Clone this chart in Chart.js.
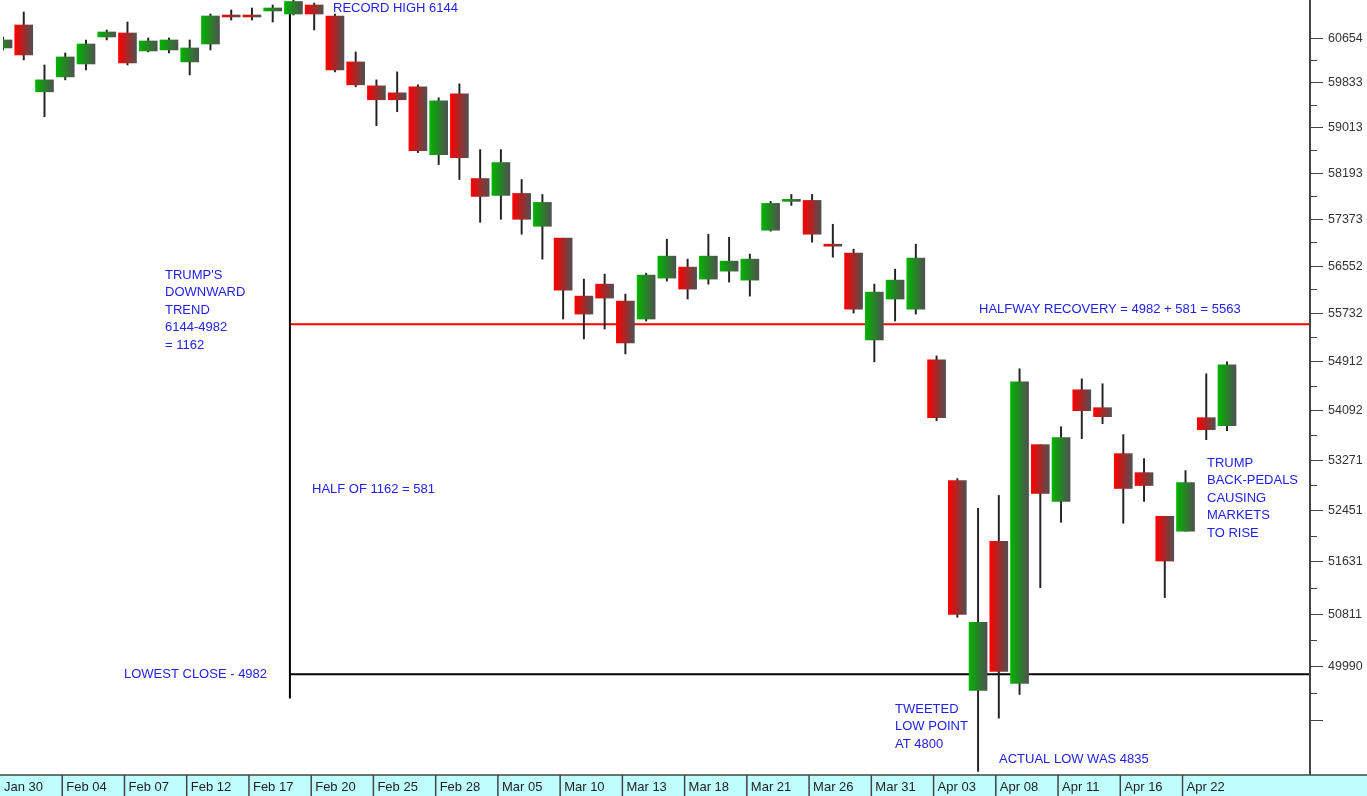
<!DOCTYPE html>
<html><head><meta charset="utf-8">
<script src="https://cdn.jsdelivr.net/npm/chart.js@4"></script>
<style>html,body{margin:0;padding:0;background:#fff}#c{display:block}</style>
</head><body>
<div style="width:1367px;height:796px"><canvas id="c"></canvas></div>
<script>
const dates=["Jan 30","Jan 31","Feb 03","Feb 04","Feb 05","Feb 06","Feb 07","Feb 10","Feb 11","Feb 12","Feb 13","Feb 14","Feb 17","Feb 18","Feb 19","Feb 20","Feb 21","Feb 24","Feb 25","Feb 26","Feb 27","Feb 28","Mar 03","Mar 04","Mar 05","Mar 06","Mar 07","Mar 10","Mar 11","Mar 12","Mar 13","Mar 14","Mar 17","Mar 18","Mar 19","Mar 20","Mar 21","Mar 24","Mar 25","Mar 26","Mar 27","Mar 28","Mar 31","Apr 01","Apr 02","Apr 03","Apr 04","Apr 07","Apr 08","Apr 09","Apr 10","Apr 11","Apr 14","Apr 15","Apr 16","Apr 17","Apr 18","Apr 22","Apr 23","Apr 24"];
const opens=[60469,60898,59658,59933,60172,60674,60748,60413,60432,60210,60543,61067,61067,61161,61104,61274,61067,60210,59768,59640,59750,58517,59622,58088,57787,57822,57241,57031,56024,56231,55938,55630,56335,56526,56318,56456,56300,57171,57681,57698,56926,56769,55273,55973,55801,54935,52933,49624,51954,49730,53521,52595,54432,54133,53373,53062,52354,52114,53967,53835];
const highs=[60674,61142,60154,60376,60618,60804,60954,60655,60655,60618,61104,61180,61217,61274,61368,61311,61104,60395,59878,60025,59787,59549,59805,58607,58607,58070,57804,57031,56318,56404,56059,56421,57013,56665,57101,57048,56752,57681,57804,57804,57276,56839,56231,56491,56926,55002,52965,52482,52691,54784,53521,53818,54616,54533,53686,53291,52354,53095,54700,54901];
const lows=[60432,60247,59203,59878,60062,60618,60154,60395,60376,59970,60432,60991,60991,60954,61085,60804,60025,59750,59040,59294,58553,58338,58070,57311,57364,57101,56665,55630,55290,55459,55036,55596,56283,55973,56231,56266,56024,57154,57610,56961,56700,55732,54901,55596,55715,53917,50752,48400,49202,49563,51216,52258,53620,53868,52242,52595,51061,52114,53603,53752];
const closes=[60618,60339,59878,60302,60543,60767,60191,60599,60618,60469,61067,61048,61048,61217,61340,61104,60062,59787,59513,59513,58589,59495,58464,57769,58374,57364,57663,56128,55715,55990,55222,56387,56717,56145,56717,56630,56665,57645,57716,57101,56891,55801,56093,56300,56682,53967,50798,50675,49913,54566,52723,53636,54083,53984,52804,52852,51638,52900,53768,54851];
const xLabelEvery=3;
const yTicks=[60654,59833,59013,58193,57373,56552,55732,54912,54092,53271,52451,51631,50811,49990,49170];
const yTickLabels=["60654","59833","59013","58193","57373","56552","55732","54912","54092","53271","52451","51631","50811","49990",""];
const recordHighIdx=13.83, halfway=55540, lowestClose=49870;
const yMin=48363,yMax=61368;

const labels=dates.concat(["","","",""]);
function grad(ctx,color){
  const ch=ctx.chart; const sx=ch.scales&&ch.scales.x; if(!sx) return color;
  const x=sx.getPixelForValue(ctx.dataIndex);
  if(!isFinite(x)) return color;
  const g=ch.ctx.createLinearGradient(x-9,0,x+9,0);
  g.addColorStop(0,color); g.addColorStop(1,'#505050'); return g;
}
const bodies=opens.map((o,i)=>[o,closes[i]]);
const wicks=lows.map((l,i)=>[l,highs[i]]);
const blue='#2222ee';
const overlay={id:'overlay',
 beforeDatasetsDraw(ch){
  const c=ch.ctx,x=ch.scales.x,y=ch.scales.y,a=ch.chartArea;
  c.save();
  const x0=x.getPixelForValue(recordHighIdx);
  c.lineWidth=2;
  c.strokeStyle='#ff0000';c.beginPath();c.moveTo(x0,y.getPixelForValue(halfway));c.lineTo(a.right,y.getPixelForValue(halfway));c.stroke();
  c.strokeStyle='#000';c.beginPath();c.moveTo(x0,y.getPixelForValue(lowestClose));c.lineTo(a.right,y.getPixelForValue(lowestClose));c.stroke();
  c.beginPath();c.moveTo(x0,y.getPixelForValue(61104));c.lineTo(x0,y.getPixelForValue(49500));c.stroke();
  c.restore();
 },
 afterDraw(ch){
  const c=ch.ctx,x=ch.scales.x,y=ch.scales.y,a=ch.chartArea;
  c.save();
  c.fillStyle='#c0ffff';c.fillRect(0,a.bottom+1,1367,23);
  c.strokeStyle='#444';c.lineWidth=1.5;c.beginPath();c.moveTo(0,a.bottom+1);c.lineTo(1367,a.bottom+1);c.stroke();
  c.font='13px Arial';c.fillStyle='#222';c.textBaseline='middle';
  for(let i=0;i<dates.length;i+=xLabelEvery){
    const px=x.getPixelForValue(i)-3;
    if(i>0){c.beginPath();c.moveTo(px,a.bottom+1);c.lineTo(px,796);c.stroke();}
    c.fillText(dates[i],Math.max(px,0)+4,a.bottom+13);
  }
  c.strokeStyle='#444';c.lineWidth=2;c.beginPath();c.moveTo(a.right,0);c.lineTo(a.right,a.bottom+1);c.stroke();
  c.lineWidth=1;c.fillStyle='#333';c.font='12.5px Arial';
  yTicks.forEach((v,k)=>{
    const py=Math.round(y.getPixelForValue(v))+0.5;
    c.beginPath();c.moveTo(a.right,py);c.lineTo(a.right+13,py);c.stroke();
    c.fillText(yTickLabels[k],a.right+18,py);
    if(k<yTicks.length-1){const m=Math.sqrt(v*yTicks[k+1]);const pm=Math.round(y.getPixelForValue(m))+0.5;
      c.beginPath();c.moveTo(a.right,pm);c.lineTo(a.right+7,pm);c.stroke();}
  });
  c.fillStyle=blue;c.font='13px Arial';
  const T=(s,px,py)=>c.fillText(s,px,py);
  T('RECORD HIGH 6144',333,8);
  ["TRUMP'S","DOWNWARD","TREND","6144-4982","= 1162"].forEach((s,i)=>T(s,165,275+i*17.5));
  T('HALF OF 1162 = 581',312,489);
  T('LOWEST CLOSE - 4982',124,674);
  T('HALFWAY RECOVERY = 4982 + 581 = 5563',979,309);
  ["TRUMP","BACK-PEDALS","CAUSING","MARKETS","TO RISE"].forEach((s,i)=>T(s,1207,463+i*17.5));
  ["TWEETED","LOW POINT","AT 4800"].forEach((s,i)=>T(s,895,709+i*17.5));
  T('ACTUAL LOW WAS 4835',999,759);
  c.restore();
 }};
new Chart(document.getElementById('c'),{
 type:'bar',
 data:{labels,datasets:[
  {data:bodies,barThickness:18,minBarLength:2,grouped:false,order:1,
   backgroundColor:ctx=>{const d=ctx.raw;if(!d)return '#888';return grad(ctx,d[1]>=d[0]?'#00b400':'#ff0000');}},
  {data:wicks,barThickness:1.3,grouped:false,order:2,backgroundColor:'#222'}
 ]},
 options:{responsive:true,maintainAspectRatio:false,animation:false,
  layout:{padding:{left:3,right:57,top:0,bottom:22}},
  plugins:{legend:{display:false},tooltip:{enabled:false}},
  scales:{
   x:{type:'category',offset:false,display:false},
   y:{type:'logarithmic',min:yMin,max:yMax,display:false}
  }},
 plugins:[overlay]
});
</script>
</body></html>
